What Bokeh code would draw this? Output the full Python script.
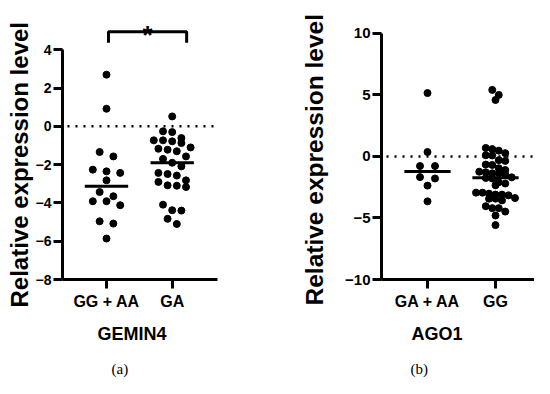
import numpy as np
from bokeh.plotting import figure
from bokeh.models import Range1d, FixedTicker, Span, Title
from bokeh.layouts import row
from bokeh.embed import file_html
from bokeh.resources import INLINE
from bokeh.core.properties import value

# ---------------- data ----------------
# Panel (a): GEMIN4
gemin4_groups = ["GG + AA", "GA"]
gemin4_gg_aa = [2.70, 0.92, -1.34, -1.57, -2.26, -2.35, -2.43, -2.82, -3.43, -3.65,
                -3.91, -3.91, -4.12, -4.96, -5.08, -5.86]
gemin4_ga = [0.52, -0.26, -0.30, -0.61, -0.73, -0.73, -0.78, -0.87, -1.10, -1.17,
             -1.22, -1.30, -1.57, -1.70, -1.90, -2.09, -2.43, -2.49, -2.57, -2.82,
             -2.90, -3.08, -3.10, -3.17, -4.09, -4.38, -4.40, -4.83, -5.10]
gemin4_yticks = [-8, -6, -4, -2, 0, 2, 4]
gemin4_sig = "*"

# Panel (b): AGO1
ago1_groups = ["GA + AA", "GG"]
ago1_ga_aa = [5.15, 0.36, -0.78, -0.78, -1.68, -1.79, -2.37, -3.65]
ago1_gg = [5.41, 5.00, 4.59,
           0.69, 0.60, 0.47, 0.27, 0.08, 0.10,
           -0.36, -0.30, -0.69, -0.66, -0.96,
           -1.29, -1.37, -1.24, -1.37, -1.46, -1.10,
           -1.79, -1.75, -1.70, -2.20, -2.34, -2.10,
           -2.94, -3.10, -3.38, -3.16, -3.10, -2.94, -3.02, -3.43, -3.57, -3.43,
           -4.20, -4.48, -4.20, -4.04, -4.80, -5.58]
ago1_yticks = [-10, -5, 0, 5, 10]

YLABEL = "Relative expression level"
FONT = "Liberation Sans"
W, H = 267, 378
FRAME_TOP, FRAME_BOTTOM = 4, 279


def swarm_offsets(vals, px_per_y, px_per_x, row_px, spacing_px):
    vals = np.asarray(vals, dtype=float)
    order = np.argsort(-vals, kind="stable")
    offs = np.zeros(len(vals))
    rows, cur, start = [], [], None
    for i in order:
        ypx = vals[i] * px_per_y
        if cur and (start - ypx) > row_px:
            rows.append(cur)
            cur = []
        if not cur:
            start = ypx
        cur.append(i)
    if cur:
        rows.append(cur)
    for r in rows:
        n = len(r)
        for k, i in enumerate(r):
            offs[i] = (k - (n - 1) / 2) * spacing_px / px_per_x
    return offs


def build(groups, series, yticks, frame_left, frame_w, tick_top,
          x0_px, cat_gap, spacings, row_px, gene, gene_off, tag, tag_off,
          ylabel_size, ylabel_off, ylabel_standoff, ytick_size, med_half):
    ylo, yhi = min(yticks), max(yticks)
    y_ppu = (FRAME_BOTTOM - tick_top) / (yhi - ylo)
    y_end = ylo + (FRAME_BOTTOM - FRAME_TOP) / y_ppu
    xs = -x0_px / cat_gap
    xe = xs + frame_w / cat_gap
    p = figure(width=W, height=H, output_backend="svg", toolbar_location=None,
               x_range=Range1d(xs, xe), y_range=Range1d(ylo, y_end),
               min_border_left=frame_left, min_border_right=W - frame_left - frame_w,
               min_border_top=FRAME_TOP, min_border_bottom=H - FRAME_BOTTOM)
    p.outline_line_color = None
    p.grid.visible = False
    p.background_fill_color = "white"
    p.border_fill_color = "white"

    xa = p.xaxis[0]
    xa.ticker = FixedTicker(ticks=list(range(len(groups))))
    xa.major_label_overrides = {i: g for i, g in enumerate(groups)}
    xa.major_tick_out = 9
    xa.major_tick_in = 0
    xa.minor_tick_out = 0
    xa.minor_tick_in = 0
    xa.axis_line_width = 3
    xa.major_tick_line_width = 3
    xa.major_label_text_font = FONT
    xa.major_label_text_font_style = "bold"
    xa.major_label_text_font_size = "16px"
    xa.major_label_text_color = "black"
    xa.major_label_standoff = 4

    ya = p.yaxis[0]
    ya.ticker = FixedTicker(ticks=yticks)
    ya.bounds = (ylo, yhi)
    ya.major_tick_out = 9
    ya.major_tick_in = 0
    ya.minor_tick_out = 0
    ya.minor_tick_in = 0
    ya.axis_line_width = 3
    ya.major_tick_line_width = 3
    ya.major_label_text_font = FONT
    ya.major_label_text_font_style = "bold"
    ya.major_label_text_font_size = ytick_size
    ya.major_label_text_color = "black"
    ya.major_label_standoff = 2

    p.add_layout(Title(text=YLABEL, align="left", offset=ylabel_off,
                       vertical_align="bottom", standoff=ylabel_standoff,
                       text_font=FONT, text_font_size=ylabel_size,
                       text_font_style="bold", text_color="black"), "left")

    p.add_layout(Span(location=0, dimension="width", line_color="black",
                      line_width=2.5, line_dash="2 6", line_dash_offset=-5))

    for gi, vals in enumerate(series):
        offs = swarm_offsets(vals, y_ppu, cat_gap, row_px, spacings[gi])
        p.scatter(x=gi + offs, y=vals, size=7, color="black", marker="circle")
        med = float(np.median(vals))
        p.segment(x0=[gi - med_half], x1=[gi + med_half], y0=[med], y1=[med],
                  line_color="black", line_width=3)

    p.add_layout(Title(text=gene, align="left", offset=gene_off, text_font=FONT,
                       text_font_size="18px", text_font_style="bold",
                       text_color="black", standoff=19), "below")
    p.add_layout(Title(text="\u00a0", align="left", offset=0, text_font=FONT,
                       text_font_size="8px", standoff=1), "below")
    p.add_layout(Title(text=tag, align="left", offset=tag_off,
                       text_font="Liberation Serif", text_font_size="15px",
                       text_font_style="normal", text_color="black",
                       standoff=-14), "below")
    return p


pa = build(gemin4_groups, [gemin4_gg_aa, gemin4_ga], gemin4_yticks,
           62, 155, 49.3, 44, 65.7, [13.7, 9.2], 8.0,
           "GEMIN4", 35, "(a)", 49, "24px", -28, 0, "14px", 0.33)

# significance bracket and star (panel a)
sig_x = (0.03, 1.22)
sig_y = (4.37, 4.94)
pa.line(x=[sig_x[0], sig_x[0], sig_x[1], sig_x[1]],
        y=[sig_y[0], sig_y[1], sig_y[1], sig_y[0]], line_color="black", line_width=3)
pa.text(x=[(sig_x[0] + sig_x[1]) / 2], y=[4.78], text=[gemin4_sig],
        text_font=value(FONT), text_font_size=value("26px"), text_font_style="bold",
        text_align="center", text_baseline="alphabetic", text_color="black")

pb = build(ago1_groups, [ago1_ga_aa, ago1_gg], ago1_yticks,
           114, 153, 32.9, 46, 68, [15, 6.5], 6.0,
           "AGO1", 30, "(b)", 29, "24.5px", -26, 30, "15px", 0.34)

layout = row(pa, pb)
open("out.html", "w").write(file_html(layout, INLINE))
